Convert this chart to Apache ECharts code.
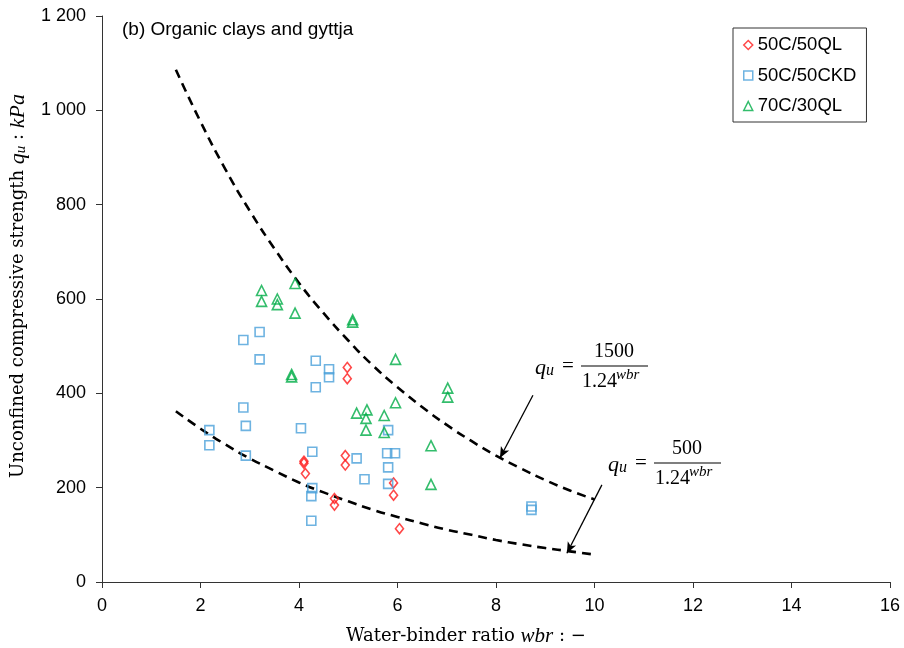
<!DOCTYPE html>
<html><head><meta charset="utf-8">
<script src="https://cdn.jsdelivr.net/npm/echarts@6/dist/echarts.min.js"></script>
<style>html,body{margin:0;padding:0;background:#fff}#c{width:904px;height:648px}</style>
</head><body><div id="c"></div>
<script>
// ---- data ----
const seriesNames = ['50C/50QL', '50C/50CKD', '70C/30QL'];
const xTicks = [0, 2, 4, 6, 8, 10, 12, 14, 16];
const yTicks = [0, 200, 400, 600, 800, 1000, 1200];

const data50QL = [
  [4.10, 256], [4.10, 252], [4.13, 230], [4.72, 177], [4.72, 163],
  [4.98, 455], [4.98, 431], [4.94, 268], [4.94, 248],
  [5.92, 210], [5.92, 184], [6.04, 113]
];
const data50CKD = [
  [3.20, 530], [2.87, 513], [3.20, 472], [4.34, 469], [4.61, 451], [4.61, 434],
  [4.34, 413], [2.87, 370], [2.92, 331], [2.18, 322], [2.18, 290], [2.92, 268],
  [4.04, 326], [4.27, 276], [4.27, 199], [4.25, 182], [4.25, 130], [5.17, 262],
  [5.81, 322], [5.79, 273], [5.95, 273], [5.81, 243], [5.33, 218], [5.81, 208],
  [8.72, 160], [8.72, 153]
];
const data70QL = [
  [3.24, 618], [3.24, 595], [3.56, 600], [3.56, 588], [3.92, 633], [3.92, 570],
  [3.85, 440], [3.85, 435], [5.09, 556], [5.09, 551], [5.96, 472],
  [7.02, 411], [7.02, 392], [5.96, 380], [5.17, 358], [5.38, 365], [5.36, 347],
  [5.73, 353], [5.36, 322], [5.73, 317], [6.68, 289], [6.68, 207]
];

// dashed fit curves
const curveX = [1.5, 2, 2.5, 3, 3.5, 4, 4.5, 5, 5.5, 6, 6.5, 7, 7.5, 8, 8.5, 9, 9.5, 10];
const upperCurve = [1086, 976, 876, 787, 707, 634, 570, 512, 459, 413, 371, 333, 299, 268, 241, 216, 194, 175];
const lowerCurve = [362, 325, 292, 262, 236, 211, 190, 171, 153, 138, 124, 111, 100, 89, 80, 72, 65, 58];

// arrow annotations (start, end) in data units
const arrowUpper = [[8.75, 396], [8.08, 263]];
const arrowLower = [[10.15, 206], [9.44, 61]];

// ---- chart ----
const zip = (xs, ys) => xs.map((x, i) => [x, ys[i]]);
const SANS = 'Liberation Sans';
const SERIF = 'DejaVu Serif';
const MATH = 'Liberation Serif';

const chart = echarts.init(document.getElementById('c'), null, {renderer: 'canvas'});

function hollow(name, data, symbol, size, color) {
  return {
    name, type: 'scatter', data, symbol, symbolSize: size,
    itemStyle: {color: 'rgba(255,255,255,0)', borderColor: color, borderWidth: 1.6},
    emphasis: {disabled: true}, z: 3
  };
}
function dashed(data, arrow) {
  return {
    type: 'line', data, smooth: true, showSymbol: false, symbol: 'none',
    lineStyle: {color: '#000', width: 2.6, type: [9, 6]},
    silent: true, z: 2,
    markLine: {
      silent: true, symbol: ['none', 'arrow'], symbolSize: [7, 11],
      lineStyle: {color: '#000', width: 1.3, type: 'solid'},
      label: {show: false},
      data: [[{coord: arrow[0]}, {coord: arrow[1]}]]
    }
  };
}

const mathText = (x, y, fml) => fml.map(e => ({
  type: 'text', x: x + e.dx, y: y + e.dy,
  style: {text: e.t, font: e.f, fill: '#000', align: e.a || 'left', verticalAlign: 'middle'}
}));
const formula = (num) => [
  {t: 'q', dx: 0, dy: 0, f: 'italic 22px ' + MATH},
  {t: 'u', dx: 11, dy: 3, f: 'italic 16px ' + MATH},
  {t: '=', dx: 27, dy: -2, f: '21px ' + MATH},
  {t: num, dx: 79, dy: -16, f: '20px ' + MATH, a: 'center'},
  {t: '1.24', dx: 47, dy: 14, f: '20px ' + MATH},
  {t: 'wbr', dx: 81, dy: 7, f: 'italic 15px ' + MATH}
];
function bar(x, y, w) {
  return {type: 'line', shape: {x1: x, y1: y, x2: x + w, y2: y}, style: {stroke: '#000', lineWidth: 1.2}};
}

const option = {
  animation: false,
  backgroundColor: '#fff',
  grid: {left: 102, right: 14, top: 16, bottom: 66, containLabel: false},
  legend: {
    data: seriesNames, orient: 'vertical', left: 733, top: 28,
    padding: [7, 10, 6, 10], itemGap: 10.5, itemWidth: 9, itemHeight: 9,
    borderColor: '#333', borderWidth: 1, itemStyle: {borderWidth: 1.5},
    textStyle: {fontFamily: SANS, fontSize: 18.5, color: '#000', lineHeight: 20}
  },
  xAxis: {
    type: 'value', min: xTicks[0], max: xTicks[xTicks.length - 1], interval: 2,
    splitLine: {show: false},
    axisLine: {onZero: false, lineStyle: {color: '#333', width: 1}},
    axisTick: {show: true, length: 6, lineStyle: {color: '#333'}},
    axisLabel: {fontFamily: SANS, fontSize: 18, color: '#000', margin: 15}
  },
  yAxis: {
    type: 'value', min: yTicks[0], max: yTicks[yTicks.length - 1], interval: 200,
    splitLine: {show: false},
    axisLine: {show: true, onZero: false, lineStyle: {color: '#333', width: 1}},
    axisTick: {show: true, length: 6, lineStyle: {color: '#333'}},
    axisLabel: {
      fontFamily: SANS, fontSize: 18, color: '#000', margin: 16,
      formatter: v => v >= 1000 ? String(v).replace(/(\d)(\d{3})$/, '$1 $2') : String(v)
    }
  },
  graphic: [
    {type: 'text', x: 122, y: 30,
     style: {text: '(b) Organic clays and gyttja', font: '19px ' + SANS, fill: '#000', verticalAlign: 'middle'}},
    {type: 'text', x: 466, y: 636,
     style: {text: '{a|Water-binder ratio }{b|wbr}{a| : −}', align: 'center', verticalAlign: 'middle',
       rich: {a: {fontFamily: SERIF, fontSize: 18, fill: '#000'},
              b: {fontFamily: MATH, fontStyle: 'italic', fontSize: 21, fill: '#000'}}}},
    {type: 'text', x: 18, y: 286, rotation: Math.PI / 2,
     style: {text: '{a|Unconfined compressive strength }{b|q}{c|u}{a| : }{b|kPa}', align: 'center', verticalAlign: 'middle',
       rich: {a: {fontFamily: SERIF, fontSize: 18, fill: '#000', lineHeight: 22},
              b: {fontFamily: MATH, fontStyle: 'italic', fontSize: 22, fill: '#000', lineHeight: 22},
              c: {fontFamily: MATH, fontStyle: 'italic', fontSize: 15, fill: '#000', lineHeight: 12, verticalAlign: 'bottom'}}}},
    ...mathText(535, 368, formula('1500')),
    bar(581, 366, 67),
    ...mathText(608, 465, formula('500')),
    bar(654, 463, 67)
  ],
  series: [
    hollow(seriesNames[0], data50QL, 'diamond', [8, 10], '#ff1a1a'),
    hollow(seriesNames[1], data50CKD, 'rect', 9, '#4aa0da'),
    hollow(seriesNames[2], data70QL, 'triangle', 10, '#00ac47'),
    dashed(zip(curveX, upperCurve), arrowUpper),
    dashed(zip(curveX, lowerCurve), arrowLower)
  ]
};
chart.setOption(option);
</script>
</body></html>
